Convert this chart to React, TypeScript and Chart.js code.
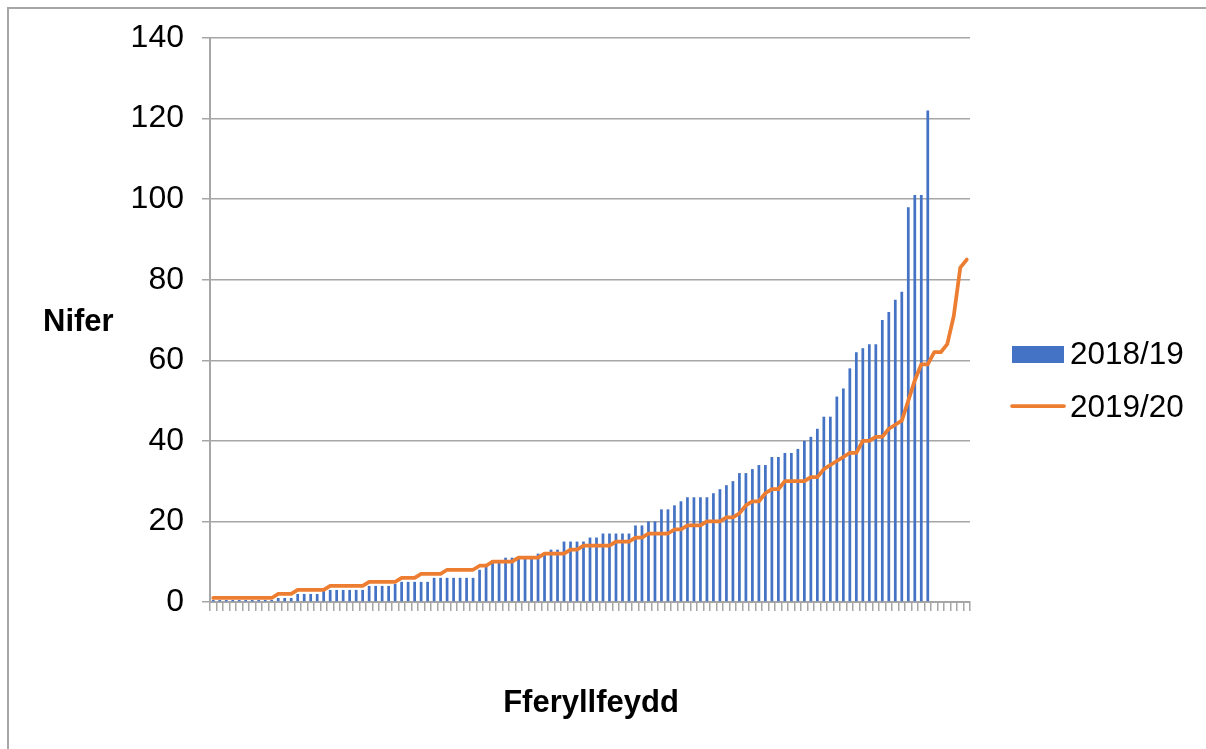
import React, { useEffect, useRef } from "react";
import { Chart, registerables } from "chart.js";

Chart.register(...registerables);

// 2018/19 – bars (sorted pharmacy counts)
const series2018_19: number[] = [
  0.5, 0.5, 0.5, 0.5, 0.5, 0.5, 0.5, 0.5, 0.5, 0.5,
  1, 1, 1,
  2, 2, 2, 2,
  3, 3, 3, 3, 3, 3, 3,
  4, 4, 4, 4,
  4.5,
  5, 5, 5, 5, 5,
  6, 6, 6, 6, 6, 6, 6,
  8, 9,
  10, 10,
  11, 11, 11, 11, 11,
  12, 12,
  13, 13,
  15, 15, 15, 15,
  16, 16,
  17, 17, 17, 17, 17,
  19, 19,
  20, 20,
  23, 23,
  24, 25,
  26, 26, 26, 26,
  27, 28, 29, 30,
  32, 32, 33,
  34, 34,
  36, 36,
  37, 37,
  38, 40, 41, 43,
  46, 46,
  51, 53, 58, 62, 63,
  64, 64,
  70, 72, 75, 77,
  98, 101, 101, 122,
];

// 2019/20 – line
const series2019_20: number[] = [
  1, 1, 1, 1, 1, 1, 1, 1, 1, 1,
  2, 2, 2,
  3, 3, 3, 3, 3,
  4, 4, 4, 4, 4, 4,
  5, 5, 5, 5, 5,
  6, 6, 6,
  7, 7, 7, 7,
  8, 8, 8, 8, 8,
  9, 9,
  10, 10, 10, 10,
  11, 11, 11, 11,
  12, 12, 12, 12,
  13, 13,
  14, 14, 14, 14, 14,
  15, 15, 15,
  16, 16,
  17, 17, 17, 17,
  18, 18,
  19, 19, 19,
  20, 20, 20,
  21, 21,
  22, 24,
  25, 25,
  27,
  28, 28,
  30, 30, 30, 30,
  31, 31,
  33, 34, 35, 36,
  37, 37,
  40, 40,
  41, 41,
  43, 44, 45, 50, 55,
  59, 59,
  62, 62,
  64, 71, 83, 85,
];

const seriesLabels = ["2018/19", "2019/20"];
const categories: string[] = series2019_20.map((_, i) => String(i + 1));
const yTicks = [0, 20, 40, 60, 80, 100, 120, 140];
const yTitle = "Nifer";
const xTitle = "Fferyllfeydd";

const BAR_COLOR = "#4472C4";
const LINE_COLOR = "#ED7D31";
const GRID_COLOR = "#A6A6A6";
const FONT = '"Liberation Sans", Arial, sans-serif';

const overlayPlugin = {
  id: "overlay",
  afterDraw(chart: any) {
    const ctx: CanvasRenderingContext2D = chart.ctx;
    ctx.save();
    ctx.fillStyle = "#000";
    ctx.textBaseline = "middle";
    ctx.font = `bold 31px ${FONT}`;
    ctx.textAlign = "left";
    ctx.fillText(yTitle, 43, 322);
    ctx.textAlign = "center";
    ctx.fillText(xTitle, 591, 703);

    // legend
    const ds = chart.data.datasets;
    ctx.font = `31.5px ${FONT}`;
    ctx.textAlign = "left";
    ctx.fillStyle = BAR_COLOR;
    ctx.fillRect(1012, 346, 52, 17);
    ctx.fillStyle = "#000";
    ctx.fillText(ds[0].label, 1070, 355);
    ctx.strokeStyle = LINE_COLOR;
    ctx.lineWidth = 3.75;
    ctx.lineCap = "round";
    ctx.beginPath();
    ctx.moveTo(1012, 406);
    ctx.lineTo(1064, 406);
    ctx.stroke();
    ctx.fillText(ds[1].label, 1070, 408);
    ctx.restore();
  },
};

export default function App() {
  const canvasRef = useRef<HTMLCanvasElement | null>(null);

  useEffect(() => {
    const canvas = canvasRef.current;
    if (!canvas) return;
    const chart = new Chart(canvas, {
      type: "bar",
      data: {
        labels: categories,
        datasets: [
          {
            type: "bar",
            label: seriesLabels[0],
            data: series2018_19,
            backgroundColor: BAR_COLOR,
            barPercentage: 0.42,
            categoryPercentage: 1,
            order: 1,
          },
          {
            type: "line",
            label: seriesLabels[1],
            data: series2019_20,
            borderColor: LINE_COLOR,
            backgroundColor: LINE_COLOR,
            borderWidth: 3.75,
            pointRadius: 0,
            tension: 0,
            borderCapStyle: "round",
            borderJoinStyle: "round",
            order: 0,
          } as any,
        ],
      },
      options: {
        responsive: false,
        animation: false,
        devicePixelRatio: 1,
        layout: { padding: { left: 0, right: 236, top: 38, bottom: 137 } },
        plugins: {
          legend: { display: false },
          title: { display: false },
          tooltip: { enabled: false },
        },
        scales: {
          x: {
            type: "category",
            offset: true,
            grid: {
              offset: true,
              drawOnChartArea: false,
              drawTicks: true,
              tickLength: 9,
              color: GRID_COLOR,
              lineWidth: 1.5,
            },
            border: { display: true, color: GRID_COLOR, width: 2 },
            ticks: { display: false },
            afterFit: (s: any) => {
              s.height = 10;
            },
          },
          y: {
            min: 0,
            max: 140,
            afterBuildTicks: (s: any) => {
              s.ticks = yTicks.map((v) => ({ value: v }));
            },
            grid: {
              color: GRID_COLOR,
              lineWidth: 1.5,
              drawTicks: true,
              tickLength: 8,
            },
            border: { display: true, color: GRID_COLOR, width: 2 },
            ticks: {
              color: "#000",
              padding: 18,
              font: { family: FONT, size: 32 },
            },
            afterFit: (s: any) => {
              s.width = 210;
            },
          },
        },
      },
      plugins: [overlayPlugin],
    });
    return () => chart.destroy();
  }, []);

  return (
    <div style={{ position: "absolute", left: 0, top: 0, width: 1206, height: 749, overflow: "hidden", background: "#fff" }}>
      <div
        style={{
          position: "absolute",
          left: 7,
          top: 7,
          width: 1230,
          height: 780,
          border: "2px solid #A6A6A6",
          boxSizing: "border-box",
        }}
      />
      <canvas ref={canvasRef} width={1206} height={749} style={{ position: "absolute", left: 0, top: 0, display: "block" }} />
    </div>
  );
}
